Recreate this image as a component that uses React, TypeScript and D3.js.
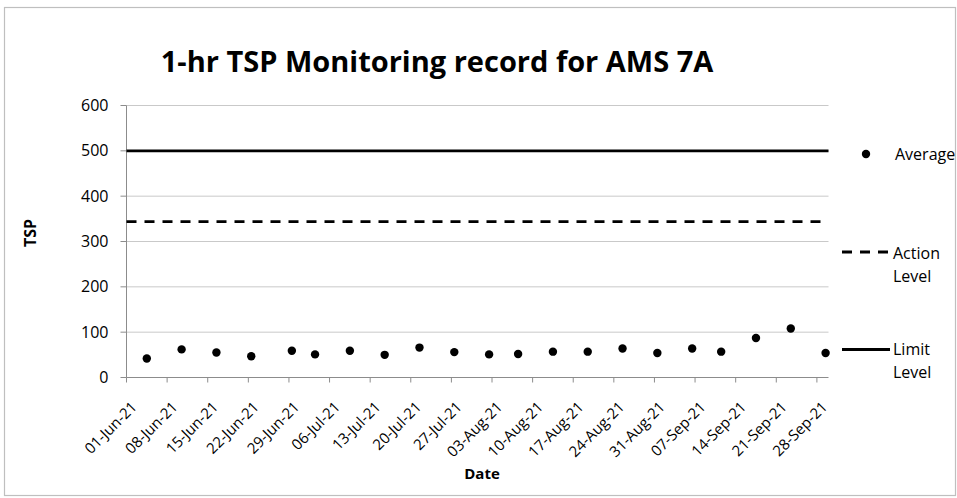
import { useRef, useEffect } from "react";
import * as d3 from "d3";

// Readings (1-hr TSP)
const sampleDates = [
  "2021-06-04", "2021-06-10", "2021-06-16", "2021-06-22", "2021-06-29",
  "2021-07-03", "2021-07-09", "2021-07-15", "2021-07-21", "2021-07-27",
  "2021-08-02", "2021-08-07", "2021-08-13", "2021-08-19", "2021-08-25",
  "2021-08-31", "2021-09-06", "2021-09-11", "2021-09-17", "2021-09-23",
  "2021-09-29",
];
const averageValues = [
  42, 62, 55, 47, 59, 51, 59, 50, 66, 56, 51, 52, 57, 57, 64, 54, 64, 57, 87,
  108, 54,
];
const actionLevel = 344;
const limitLevel = 500;
const yTicks = [0, 100, 200, 300, 400, 500, 600];
const axisStart = "2021-06-01";
const axisEnd = "2021-09-30";

const W = 957;
const H = 498;
const FONT = "'Open Sans', sans-serif";

export default function App() {
  const ref = useRef<SVGSVGElement>(null);

  useEffect(() => {
    if (!ref.current) return;
    const svg = d3.select(ref.current);
    svg.selectAll("*").remove();

    const parse = d3.utcParse("%Y-%m-%d");
    const fmt = d3.utcFormat("%d-%b-%y");
    const start = parse(axisStart) as Date;
    const end = parse(axisEnd) as Date;

    const x = d3.scaleUtc().domain([start, end]).range([126.5, 828.5]);
    const y = d3.scaleLinear().domain([0, 600]).range([377.5, 105.5]);

    // points sit in the middle of their day slot (Excel date axis)
    const mid = (d: Date) => x(d3.utcHour.offset(d, 12));

    const data = sampleDates.map((s, i) => ({
      date: parse(s) as Date,
      value: averageValues[i],
    }));

    // outer chart frame
    svg
      .append("rect")
      .attr("x", 4.5)
      .attr("y", 7.5)
      .attr("width", W - 6)
      .attr("height", H - 10)
      .attr("fill", "#fff")
      .attr("stroke", "#bfbfbf")
      .attr("stroke-width", 1.2);

    // title
    svg
      .append("text")
      .attr("x", 437)
      .attr("y", 72)
      .attr("text-anchor", "middle")
      .attr("font-family", FONT)
      .attr("font-weight", "bold")
      .attr("font-size", 29)
      .text("1-hr TSP Monitoring record for AMS 7A");

    const [x0, x1] = x.range();

    // gridlines
    svg
      .append("g")
      .selectAll("line")
      .data(yTicks.filter((t) => t > 0))
      .join("line")
      .attr("x1", x0)
      .attr("x2", x1)
      .attr("y1", (d) => y(d))
      .attr("y2", (d) => y(d))
      .attr("stroke", "#c9c9c9")
      .attr("stroke-width", 1);

    // y axis
    const yAxis = svg.append("g");
    yAxis
      .append("line")
      .attr("x1", x0)
      .attr("x2", x0)
      .attr("y1", y(600))
      .attr("y2", y(0))
      .attr("stroke", "#8c8c8c");
    yAxis
      .selectAll("line.tick")
      .data(yTicks)
      .join("line")
      .attr("class", "tick")
      .attr("x1", x0 - 6)
      .attr("x2", x0)
      .attr("y1", (d) => y(d))
      .attr("y2", (d) => y(d))
      .attr("stroke", "#8c8c8c");
    yAxis
      .selectAll("text")
      .data(yTicks)
      .join("text")
      .attr("x", x0 - 18)
      .attr("y", (d) => y(d))
      .attr("dy", "0.35em")
      .attr("text-anchor", "end")
      .attr("font-family", FONT)
      .attr("font-size", 16)
      .attr("fill", "#000")
      .text((d) => d);

    // x axis
    const weekTicks = d3.utcDay.range(start, end, 7);
    const xAxis = svg.append("g");
    xAxis
      .append("line")
      .attr("x1", x0)
      .attr("x2", x1)
      .attr("y1", y(0))
      .attr("y2", y(0))
      .attr("stroke", "#8c8c8c");
    xAxis
      .selectAll("line.tick")
      .data(weekTicks)
      .join("line")
      .attr("class", "tick")
      .attr("x1", (d) => x(d))
      .attr("x2", (d) => x(d))
      .attr("y1", y(0))
      .attr("y2", y(0) + 5)
      .attr("stroke", "#8c8c8c");
    xAxis
      .selectAll("text")
      .data(weekTicks)
      .join("text")
      .attr("transform", (d) => `translate(${x(d) + 4}, ${y(0) + 23}) rotate(-45)`)
      .attr("dy", "0.7em")
      .attr("text-anchor", "end")
      .attr("font-family", FONT)
      .attr("font-size", 15)
      .text((d) => fmt(d));

    // axis titles
    svg
      .append("text")
      .attr("x", 482)
      .attr("y", 479)
      .attr("text-anchor", "middle")
      .attr("font-family", FONT)
      .attr("font-weight", "bold")
      .attr("font-size", 15)
      .text("Date");
    svg
      .append("text")
      .attr("transform", "translate(36, 233) rotate(-90)")
      .attr("text-anchor", "middle")
      .attr("font-family", FONT)
      .attr("font-weight", "bold")
      .attr("font-size", 16)
      .text("TSP");

    // limit and action level lines
    svg
      .append("line")
      .attr("x1", x0)
      .attr("x2", x1)
      .attr("y1", y(limitLevel))
      .attr("y2", y(limitLevel))
      .attr("stroke", "#000")
      .attr("stroke-width", 2.8);
    svg
      .append("line")
      .attr("x1", x0)
      .attr("x2", x1)
      .attr("y1", y(actionLevel))
      .attr("y2", y(actionLevel))
      .attr("stroke", "#000")
      .attr("stroke-width", 2.8)
      .attr("stroke-dasharray", "10,8");

    // average points
    svg
      .append("g")
      .selectAll("circle")
      .data(data)
      .join("circle")
      .attr("cx", (d) => mid(d.date))
      .attr("cy", (d) => y(d.value))
      .attr("r", 4.2)
      .attr("fill", "#000");

    // legend
    const lg = svg.append("g").attr("font-family", FONT).attr("font-size", 16);
    lg.append("circle").attr("cx", 866).attr("cy", 154).attr("r", 4.2).attr("fill", "#000");
    lg.append("text").attr("x", 895).attr("y", 154).attr("dy", "0.35em").text("Average");

    lg.append("line")
      .attr("x1", 842).attr("x2", 890).attr("y1", 252).attr("y2", 252)
      .attr("stroke", "#000").attr("stroke-width", 2.8).attr("stroke-dasharray", "10,8");
    lg.append("text").attr("x", 893).attr("y", 253).attr("dy", "0.35em").text("Action");
    lg.append("text").attr("x", 893).attr("y", 276).attr("dy", "0.35em").text("Level");

    lg.append("line")
      .attr("x1", 842).attr("x2", 890).attr("y1", 349.5).attr("y2", 349.5)
      .attr("stroke", "#000").attr("stroke-width", 2.8);
    lg.append("text").attr("x", 893).attr("y", 349).attr("dy", "0.35em").text("Limit");
    lg.append("text").attr("x", 893).attr("y", 372).attr("dy", "0.35em").text("Level");
  }, []);

  return (
    <svg
      ref={ref}
      width={W}
      height={H}
      style={{ position: "absolute", left: 0, top: 0, background: "#fff" }}
    />
  );
}
